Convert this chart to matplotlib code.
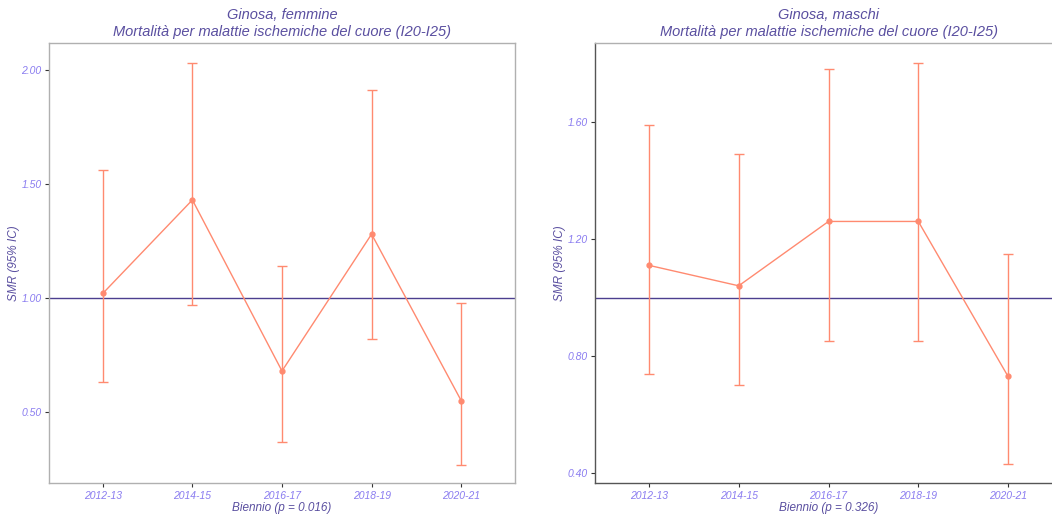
import matplotlib
matplotlib.use('Agg')
import matplotlib.pyplot as plt

bienni = ['2012-13', '2014-15', '2016-17', '2018-19', '2020-21']

# femmine
smr_f = [1.02, 1.43, 0.68, 1.28, 0.55]
lo_f = [0.63, 0.97, 0.37, 0.82, 0.27]
hi_f = [1.56, 2.03, 1.14, 1.91, 0.98]
yticks_f = [0.50, 1.00, 1.50, 2.00]

# maschi
smr_m = [1.11, 1.04, 1.26, 1.26, 0.73]
lo_m = [0.74, 0.70, 0.85, 0.85, 0.43]
hi_m = [1.59, 1.49, 1.78, 1.80, 1.15]
yticks_m = [0.40, 0.80, 1.20, 1.60]

titles = ['Ginosa, femmine\nMortalità per malattie ischemiche del cuore (I20-I25)',
          'Ginosa, maschi\nMortalità per malattie ischemiche del cuore (I20-I25)']
xlabels = ['Biennio (p = 0.016)', 'Biennio (p = 0.326)']

plt.rcParams['font.family'] = ['Liberation Sans', 'DejaVu Sans']
plt.rcParams['font.style'] = 'italic'

title_col = '#5a4fa0'
tick_col = '#8a7cf0'
line_col = '#ff8a70'
ref_col = '#4c3f8f'

fig = plt.figure(figsize=(10.52, 5.18), dpi=100)
ax1 = fig.add_axes([0.0466, 0.0676, 0.4429, 0.8494])
ax2 = fig.add_axes([0.5656, 0.0676, 0.4439, 0.8494])

panels = [
    (ax1, smr_f, lo_f, hi_f, yticks_f, (0.189, 2.118)),
    (ax2, smr_m, lo_m, hi_m, yticks_m, (0.366, 1.87)),
]

for i, (ax, smr, lo, hi, yt, yl) in enumerate(panels):
    x = list(range(len(bienni)))
    err = [[s - l for s, l in zip(smr, lo)], [h - s for s, h in zip(smr, hi)]]
    ax.axhline(1.0, color=ref_col, lw=1.0, zorder=1)
    ax.errorbar(x, smr, yerr=err, color=line_col, lw=1.0, capsize=3.5, capthick=1.0,
                marker='o', ms=3.5, zorder=3)
    ax.set_xlim(-0.6, 4.6)
    ax.set_ylim(*yl)
    ax.set_xticks(x)
    ax.set_xticklabels(bienni)
    ax.set_yticks(yt)
    ax.set_yticklabels(['%.2f' % v for v in yt])
    ax.tick_params(labelsize=7.5, labelcolor=tick_col, length=3, pad=2.5, color='#333333')
    ax.set_title(titles[i], color=title_col, fontsize=10.5, pad=5, linespacing=1.25)
    ax.set_xlabel(xlabels[i], color=title_col, fontsize=8.5, labelpad=1)
    ax.set_ylabel('SMR (95% IC)', color=title_col, fontsize=8.5, labelpad=1)
    for sp in ax.spines.values():
        sp.set_color('#b0b0b0')
        sp.set_linewidth(1.0)

for name in ['left', 'bottom']:
    ax2.spines[name].set_color('#555555')

fig.savefig('out.png', dpi=100)
